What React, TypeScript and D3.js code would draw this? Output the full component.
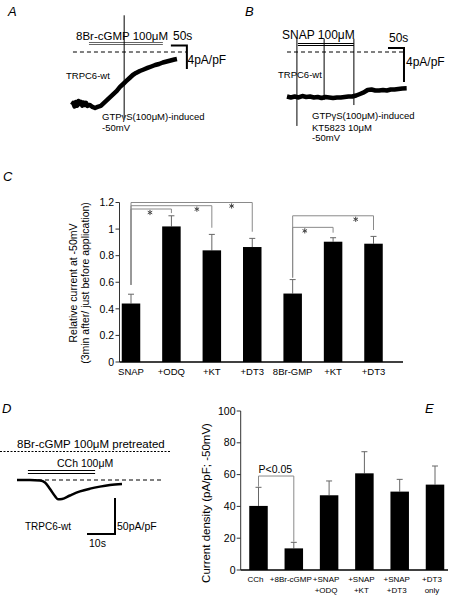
import React from 'react';
import * as d3 from 'd3';

const FONT = "'Liberation Sans', Arial, Helvetica, sans-serif";

// ---------- Panel A trace (time s, current pA/pF) ----------
const traceATime = [0, 4, 8, 12, 16, 20, 24, 28, 32, 36, 40, 44, 48, 56, 64, 72, 80, 90, 100, 110, 120, 130, 140, 150, 160, 170, 180, 190, 200, 212, 224, 236, 248, 260, 272, 284, 296, 308, 320, 328];
const traceACurrent = [-9.09, -8.75, -9.35, -8.6, -9.2, -8.4, -8.92, -8.58, -9.2, -8.7, -9.09, -8.75, -9.26, -9.09, -9.43, -9.61, -9.43, -9.26, -8.75, -8.23, -7.72, -7.2, -6.69, -6.0, -5.49, -4.97, -4.46, -3.95, -3.6, -3.26, -3.0, -2.74, -2.49, -2.23, -2.06, -1.8, -1.63, -1.46, -1.29, -1.2];

// ---------- Panel B trace ----------
const traceBTime = [0, 12, 24, 36, 48, 60, 72, 84, 96, 108, 120, 132, 144, 156, 168, 180, 192, 204, 216, 228, 240, 252, 264, 276, 288, 300, 312, 324, 336, 348, 360, 374];
const traceBCurrent = [-5.24, -5.35, -5.24, -5.35, -5.18, -5.29, -5.24, -5.35, -5.29, -5.41, -5.29, -5.35, -5.41, -5.35, -5.35, -5.29, -5.24, -5.24, -5.12, -4.94, -4.76, -4.47, -4.41, -4.53, -4.53, -4.47, -4.53, -4.41, -4.41, -4.35, -4.29, -4.27];

// ---------- Panel D trace ----------
const traceDTime = [0, 4.6, 8.2, 10, 11.8, 13.6, 14.6, 16.1, 18.9, 22.5, 26.1, 29.6, 33.2, 37.5];
const traceDCurrent = [0, 0, -0.7, -3.5, -12.5, -22.5, -26.8, -26.4, -21.5, -15.8, -12.0, -9.2, -7.0, -5.6];

// ---------- Panel C ----------
const catsC = ['SNAP', '+ODQ', '+KT', '+DT3', '8Br-GMP', '+KT', '+DT3'];
const meanC = [0.44, 1.02, 0.84, 0.865, 0.515, 0.905, 0.89];
const errC = [0.07, 0.08, 0.12, 0.065, 0.105, 0.03, 0.055];
const ticksC = [0, 0.2, 0.4, 0.6, 0.8, 1, 1.2];
const bracketFromC = [0, 0, 0, 4, 4];
const bracketToC = [1, 2, 3, 5, 6];
const bracketLevelC = [1.151, 1.176, 1.2, 1.013, 1.1];
const bracketFromEndC = [0.58, 0.58, 0.58, 0.635, 0.635];
const bracketToEndC = [1.12, 1.01, 0.98, 0.973, 0.993];
const bracketStarC = [0.47, 1.63, 2.49, 4.3, 5.56];

// ---------- Panel E ----------
const catsE1 = ['CCh', '+8Br-cGMP', '+SNAP', '+SNAP', '+SNAP', '+DT3'];
const catsE2 = ['', '', '+ODQ', '+KT', '+DT3', 'only'];
const meanE = [40.3, 13.6, 47, 60.8, 49.3, 53.7];
const errE = [11.7, 3.8, 9, 13.6, 7.7, 11.7];
const ticksE = [0, 20, 40, 60, 80, 100];
const sigE = { from: 0, to: 1, level: 59.1, fromEnd: 52.4, toEnd: 17.8, label: 'P<0.05' };

function Star({ cx, cy }: { cx: number; cy: number }) {
  const r = 2.6;
  const a = [90, 30, 150].map((deg) => (deg * Math.PI) / 180);
  const d = a.map((t) => `M${cx - r * Math.cos(t)},${cy - r * Math.sin(t)}L${cx + r * Math.cos(t)},${cy + r * Math.sin(t)}`).join('');
  return <path d={d} stroke="#444" strokeWidth={1} fill="none" />;
}

export default function App() {
  const xA = d3.scaleLinear().domain([0, 50]).range([72, 88]);
  const yA = d3.scaleLinear().domain([0, -4]).range([52, 75.3]);
  const lineA = d3.line<number>().x((_, i) => xA(traceATime[i])).y((d) => yA(d));

  const xB = d3.scaleLinear().domain([0, 50]).range([287, 303]);
  const yB = d3.scaleLinear().domain([0, -4]).range([52, 86]);
  const lineB = d3.line<number>().x((_, i) => xB(traceBTime[i])).y((d) => yB(d));

  const xD = d3.scaleLinear().domain([0, 10]).range([17, 45]);
  const yD = d3.scaleLinear().domain([0, -50]).range([480, 516]);
  const lineD = d3.line<number>().x((_, i) => xD(traceDTime[i])).y((d) => yD(d)).curve(d3.curveMonotoneX);

  const xC = d3.scaleLinear().domain([0, catsC.length - 1]).range([131, 373.5]);
  const yC = d3.scaleLinear().domain([0, 1.2]).range([362, 202.5]);
  const bwC = 18.5;

  const xE = d3.scaleLinear().domain([0, meanE.length - 1]).range([258.5, 435]);
  const yE = d3.scaleLinear().domain([0, 100]).range([570, 411]);
  const bwE = 18.5;

  const txt = { fontFamily: FONT, fill: '#000' } as const;
  const grey = '#8a8a8a';

  return (
    <svg width={455} height={595} style={{ position: 'absolute', left: 0, top: 0, background: '#fff' }}>
      {/* ================= Panel A ================= */}
      <text x={8} y={16} fontSize={13} fontStyle="italic" {...txt}>A</text>
      <text x={76} y={40} fontSize={11.5} {...txt}>8Br-cGMP 100μM</text>
      <line x1={xA(53)} x2={xA(284)} y1={42.5} y2={42.5} stroke="#666" strokeWidth={1} />
      <line x1={xA(53)} x2={xA(284)} y1={44.5} y2={44.5} stroke="#666" strokeWidth={1} />
      <text x={173} y={40} fontSize={12} {...txt}>50s</text>
      <text x={187.5} y={63.5} fontSize={12} {...txt}>4pA/pF</text>
      <line x1={xA(3)} x2={xA(359)} y1={yA(0)} y2={yA(0)} stroke="#000" strokeWidth={1} strokeDasharray="4,3" />
      <path d={`M${xA(309)},${yA(1.1)}H${xA(359)}V${yA(-2.9)}`} fill="none" stroke="#000" strokeWidth={2} />
      <path d={lineA(traceACurrent) || ''} fill="none" stroke="#000" strokeWidth={4.5} strokeLinejoin="round" />
      <line x1={xA(163)} x2={xA(163)} y1={yA(6.3)} y2={yA(-11.3)} stroke="#000" strokeWidth={1} />
      <text x={66} y={79} fontSize={9.5} {...txt}>TRPC6-wt</text>
      <text x={102} y={120} fontSize={9.5} {...txt}>GTPγS(100μM)-induced</text>
      <text x={102} y={131} fontSize={9.5} {...txt}>-50mV</text>

      {/* ================= Panel B ================= */}
      <text x={245} y={16} fontSize={13} fontStyle="italic" {...txt}>B</text>
      <text x={282} y={39} fontSize={12} {...txt}>SNAP 100μM</text>
      <line x1={xB(34)} x2={xB(209)} y1={43.5} y2={43.5} stroke="#000" strokeWidth={1} />
      <line x1={xB(34)} x2={xB(209)} y1={45.5} y2={45.5} stroke="#000" strokeWidth={1} />
      <text x={389} y={42} fontSize={12} {...txt}>50s</text>
      <text x={406} y={66} fontSize={12} {...txt}>4pA/pF</text>
      <line x1={xB(0)} x2={xB(365.6)} y1={yB(0)} y2={yB(0)} stroke="#000" strokeWidth={1} strokeDasharray="4,3" />
      <path d={`M${xB(315.6)},${yB(0.47)}H${xB(365.6)}V${yB(-3.53)}`} fill="none" stroke="#000" strokeWidth={2} />
      <text x={278} y={77.5} fontSize={9.5} {...txt}>TRPC6-wt</text>
      <path d={lineB(traceBCurrent) || ''} fill="none" stroke="#000" strokeWidth={4.5} strokeLinejoin="round" />
      <line x1={xB(31)} x2={xB(31)} y1={yB(1.56)} y2={yB(-8.7)} stroke="#000" strokeWidth={1} />
      <line x1={xB(116)} x2={xB(116)} y1={yB(1.56)} y2={yB(-5.65)} stroke="#000" strokeWidth={1} />
      <line x1={xB(209)} x2={xB(209)} y1={yB(1.56)} y2={yB(-6.24)} stroke="#000" strokeWidth={1} />
      <text x={312} y={119} fontSize={9.5} {...txt}>GTPγS(100μM)-induced</text>
      <text x={312} y={130.5} fontSize={9.5} {...txt}>KT5823 10μM</text>
      <text x={312} y={140.5} fontSize={9.5} {...txt}>-50mV</text>

      {/* ================= Panel C ================= */}
      <text x={3} y={181} fontSize={13} fontStyle="italic" {...txt}>C</text>
      <line x1={119.5} x2={119.5} y1={yC(1.2)} y2={yC(0)} stroke="#333" strokeWidth={1} />
      {ticksC.map((t) => (
        <g key={t}>
          <line x1={115.5} x2={119.5} y1={yC(t)} y2={yC(t)} stroke="#333" strokeWidth={1} />
          <text x={114} y={yC(t)} dy="0.35em" textAnchor="end" fontSize={10.5} {...txt}>{t}</text>
        </g>
      ))}
      <text transform={`translate(77,283) rotate(-90)`} textAnchor="middle" fontSize={10.5} {...txt}>Relative current at -50mV</text>
      <text transform={`translate(89,283) rotate(-90)`} textAnchor="middle" fontSize={10.5} {...txt}>(3min after/ just before application)</text>
      {meanC.map((m, i) => (
        <g key={i}>
          <line x1={xC(i)} x2={xC(i)} y1={yC(m)} y2={yC(m + errC[i])} stroke="#666" strokeWidth={1} />
          <line x1={xC(i) - 3} x2={xC(i) + 3} y1={yC(m + errC[i])} y2={yC(m + errC[i])} stroke="#666" strokeWidth={1} />
          <rect x={xC(i) - bwC / 2} y={yC(m)} width={bwC} height={yC(0) - yC(m)} fill="#000" />
          <text x={xC(i)} y={375} textAnchor="middle" fontSize={9.5} {...txt}>{catsC[i]}</text>
        </g>
      ))}
      <line x1={119.5} x2={403} y1={yC(0)} y2={yC(0)} stroke="#000" strokeWidth={1.5} />
      {bracketFromC.map((a, k) => {
        const b = bracketToC[k];
        const lv = yC(bracketLevelC[k]);
        return (
          <g key={k}>
            <path
              d={`M${xC(a)},${yC(bracketFromEndC[k])}V${lv}H${xC(b)}V${yC(bracketToEndC[k])}`}
              fill="none"
              stroke={grey}
              strokeWidth={1}
            />
            <Star cx={xC(bracketStarC[k])} cy={lv + 3.5} />
          </g>
        );
      })}

      {/* ================= Panel D ================= */}
      <text x={2} y={413} fontSize={13} fontStyle="italic" {...txt}>D</text>
      <text x={17} y={448} fontSize={11.5} {...txt}>8Br-cGMP 100μM pretreated</text>
      <line x1={0} x2={170} y1={451.5} y2={451.5} stroke="#000" strokeWidth={1} strokeDasharray="2,1.5" />
      <text x={57} y={467} fontSize={10.5} {...txt}>CCh 100μM</text>
      <line x1={xD(3.9)} x2={xD(27.9)} y1={470.5} y2={470.5} stroke="#000" strokeWidth={1} />
      <line x1={xD(3.9)} x2={xD(27.9)} y1={473.5} y2={473.5} stroke="#000" strokeWidth={1} />
      <line x1={xD(0)} x2={xD(52.1)} y1={yD(0)} y2={yD(0)} stroke="#000" strokeWidth={1} strokeDasharray="4,3" />
      <path d={lineD(traceDCurrent) || ''} fill="none" stroke="#000" strokeWidth={2.5} />
      <path d={`M${xD(35)},${yD(-25)}V${yD(-75)}H${xD(25)}`} fill="none" stroke="#000" strokeWidth={2} />
      <text x={117} y={530} fontSize={10.5} {...txt}>50pA/pF</text>
      <text x={89} y={547} fontSize={10.5} {...txt}>10s</text>
      <text x={25} y={530} fontSize={10} {...txt}>TRPC6-wt</text>

      {/* ================= Panel E ================= */}
      <text x={425} y={413} fontSize={13} fontStyle="italic" {...txt}>E</text>
      <line x1={240.7} x2={240.7} y1={yE(100)} y2={yE(0)} stroke="#333" strokeWidth={1} />
      {ticksE.map((t) => (
        <g key={t}>
          <line x1={236.7} x2={240.7} y1={yE(t)} y2={yE(t)} stroke="#333" strokeWidth={1} />
          <text x={235.5} y={yE(t)} dy="0.35em" textAnchor="end" fontSize={10.5} {...txt}>{t}</text>
        </g>
      ))}
      <text transform={`translate(210,503) rotate(-90)`} textAnchor="middle" fontSize={11.5} {...txt}>Current density (pA/pF; -50mV)</text>
      {meanE.map((m, i) => (
        <g key={i}>
          <line x1={xE(i)} x2={xE(i)} y1={yE(m)} y2={yE(m + errE[i])} stroke="#666" strokeWidth={1} />
          <line x1={xE(i) - 3} x2={xE(i) + 3} y1={yE(m + errE[i])} y2={yE(m + errE[i])} stroke="#666" strokeWidth={1} />
          <rect x={xE(i) - bwE / 2} y={yE(m)} width={bwE} height={yE(0) - yE(m)} fill="#000" />
          <text x={xE(i) - 3} y={581.5} textAnchor="middle" fontSize={8} {...txt}>{catsE1[i]}</text>
          <text x={xE(i) - 3} y={593.3} textAnchor="middle" fontSize={8} {...txt}>{catsE2[i]}</text>
        </g>
      ))}
      <line x1={240.7} x2={448} y1={yE(0)} y2={yE(0)} stroke="#000" strokeWidth={1.5} />
      <path
        d={`M${xE(sigE.from)},${yE(sigE.fromEnd)}V${yE(sigE.level)}H${xE(sigE.to)}V${yE(sigE.toEnd)}`}
        fill="none"
        stroke={grey}
        strokeWidth={1}
      />
      <text x={xE(sigE.from)} y={473.3} fontSize={10.5} {...txt}>{sigE.label}</text>
    </svg>
  );
}
